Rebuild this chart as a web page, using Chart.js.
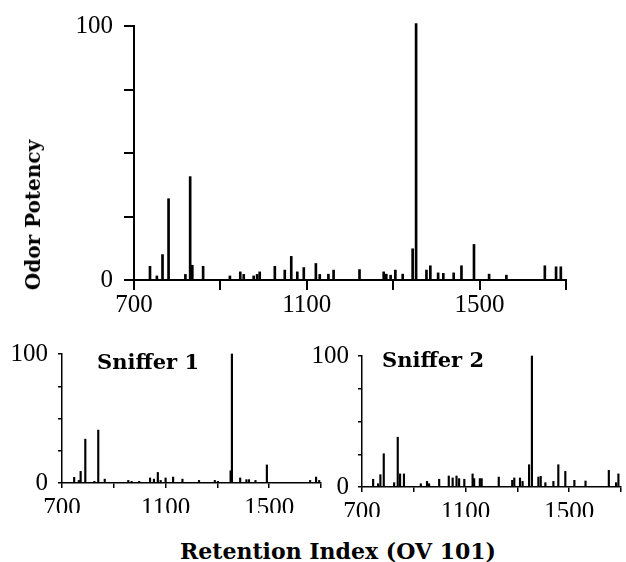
<!DOCTYPE html>
<html>
<head>
<meta charset="utf-8">
<script src="https://cdn.jsdelivr.net/npm/chart.js@4.4.1/dist/chart.umd.min.js"></script>
<style>
  html, body { margin: 0; padding: 0; background: #fff; }
  #wrap { position: relative; width: 626px; height: 562px; overflow: hidden; background: #fff; }
  canvas { position: absolute; }
  .lbl { position: absolute; font-family: "DejaVu Serif", serif; font-weight: bold; color: #000; white-space: nowrap; }
</style>
</head>
<body>
<div id="wrap">
  <canvas id="top" width="626" height="330" style="left:0;top:0;width:626px;height:330px"></canvas>
  <canvas id="s1" width="326" height="200" style="left:0;top:320px;width:326px;height:200px"></canvas>
  <canvas id="s2" width="326" height="200" style="left:300px;top:320px;width:326px;height:200px"></canvas>
  <div class="lbl" id="ylab" style="left:33px;top:215px;font-size:20px;transform:translate(-50%,-50%) rotate(-90deg);">Odor Potency</div>
  <div class="lbl" style="left:97px;top:349px;font-size:21px;">Sniffer 1</div>
  <div class="lbl" style="left:382px;top:347px;font-size:21px;">Sniffer 2</div>
  <div class="lbl" style="left:338px;top:551px;font-size:22px;transform:translate(-50%,-50%);">Retention Index (OV 101)</div>
</div>
<script>
// ---- data ----
const xTickLabels = [700, 1100, 1500];
const yTickLabels = [0, 100];

const topRI = [737, 753, 766, 780, 819, 830, 835, 860, 922, 946, 954, 977, 985, 991,
  1026, 1049, 1064, 1078, 1093, 1121, 1130, 1150, 1162, 1222,
  1278, 1284, 1294, 1305, 1322, 1345, 1353,
  1377, 1386, 1404, 1416, 1440, 1458, 1487, 1522, 1562,
  1651, 1677, 1688];
const topPotency = [5.4, 1.6, 10, 32, 2.2, 40.7, 5.8, 5.4, 1.6, 3.2, 2.2, 1.6, 2.2, 3.2,
  5.4, 3.9, 9.3, 3.2, 4.9, 6.5, 2.2, 2.3, 3.9, 4.1,
  3.2, 2.3, 1.9, 3.9, 2.3, 12.3, 101,
  3.9, 5.6, 2.8, 2.6, 2.8, 5.6, 14, 2.3, 1.9,
  5.6, 5.2, 5.2];

const sniffer1RI = [747, 765, 772, 790, 825, 840, 865,
  956, 969, 998, 1040, 1055, 1070, 1081, 1100, 1129, 1165,
  1229, 1290, 1302, 1351, 1356, 1388, 1412, 1422, 1447, 1491,
  1658, 1681, 1693];
const sniffer1Potency = [4.4, 2, 9, 34, 1.3, 41, 3,
  2, 1.3, 1.3, 3.9, 3, 8.2, 2, 3.9, 4.6, 3,
  2, 2, 1.3, 9.5, 100, 3.9, 2.6, 2.6, 2, 14,
  2, 4.6, 2];

const sniffer2RI = [743, 762, 771, 784, 824, 838, 847, 862,
  927, 951, 959, 998,
  1035, 1050, 1065, 1075, 1095, 1127, 1133, 1155, 1162, 1228,
  1280, 1288, 1310, 1320, 1345, 1356,
  1381, 1390, 1408, 1439, 1458, 1485, 1520, 1563,
  1653, 1681, 1690];
const sniffer2Potency = [5.9, 2.5, 9.4, 25.4, 3.3, 38, 10, 10,
  2.5, 4.3, 2.5, 5.9,
  8.4, 6.9, 8.4, 6.4, 5.9, 10, 6.4, 6.4, 6.4, 7.6,
  5.1, 6.9, 6.9, 4.3, 17, 100,
  7.6, 8.1, 3.3, 4.3, 17, 12, 5.1, 4.6,
  12.7, 3.3, 10];

// ---- drawing ----
function makeChart(id, ri, pot, g) {
  const pts = ri.map((x, i) => ({ x: x, y: pot[i] }));
  return new Chart(document.getElementById(id), {
    type: 'bar',
    data: { datasets: [{ data: pts, backgroundColor: '#000', borderWidth: 0,
      barThickness: g.bar, clip: false }] },
    options: {
      responsive: false, animation: false, devicePixelRatio: 1,
      layout: { padding: g.pad },
      plugins: { legend: { display: false }, tooltip: { enabled: false } },
      scales: {
        x: {
          type: 'linear', min: 700, max: 1700, offset: false,
          afterFit: s => { s.height = g.xh; },
          grid: { display: true, offset: false, drawOnChartArea: false, drawTicks: true,
                  tickLength: g.xtl, lineWidth: g.lw, color: '#000' },
          border: { display: true, color: '#000', width: g.lw },
          ticks: { stepSize: 200, autoSkip: false, maxRotation: 0, color: '#000',
                   padding: g.xpad,
                   font: { family: 'Liberation Serif', size: 25 },
                   callback: v => xTickLabels.includes(v) ? String(v) : '' }
        },
        y: {
          min: 0, max: 100,
          afterFit: s => { s.width = g.yw; },
          grid: { display: true, drawOnChartArea: false, drawTicks: true,
                  tickLength: g.ytl, lineWidth: g.lw, color: '#000' },
          border: { display: true, color: '#000', width: g.lw },
          ticks: { stepSize: 25, autoSkip: false, color: '#000', padding: g.ypad,
                   font: { family: 'Liberation Serif', size: 25 },
                   callback: v => yTickLabels.includes(v) ? String(v) : '' }
        }
      }
    }
  });
}

makeChart('top', topRI, topPotency, {
  bar: 2, lw: 2, xtl: 10, ytl: 10, xpad: 0, ypad: 11, xh: 40, yw: 60,
  pad: { left: 74, right: 60, top: 22, bottom: 10 }
});
makeChart('s1', sniffer1RI, sniffer1Potency, {
  bar: 1.5, lw: 1.5, xtl: 5, ytl: 4, xpad: 5, ypad: 10, xh: 30, yw: 50,
  pad: { left: 12, right: 4, top: 34, bottom: 7 }
});
makeChart('s2', sniffer2RI, sniffer2Potency, {
  bar: 1.5, lw: 1.5, xtl: 5, ytl: 4, xpad: 5, ypad: 9, xh: 30, yw: 50,
  pad: { left: 12, right: 5, top: 36, bottom: 3 }
});
</script>
</body>
</html>
